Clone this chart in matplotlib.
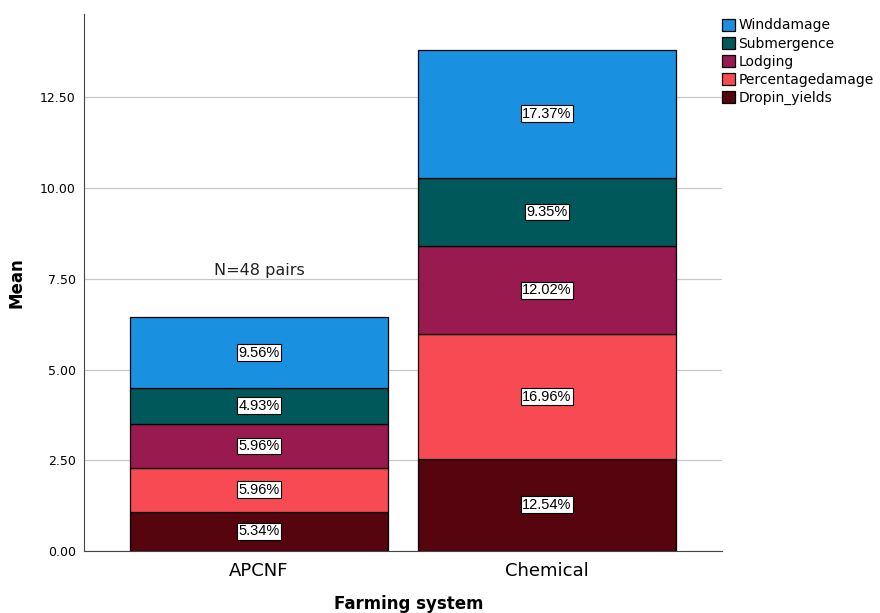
import matplotlib
matplotlib.use('Agg')
import matplotlib.pyplot as plt
from matplotlib.patches import Patch

systems = ['APCNF', 'Chemical']
series = ['Dropin_yields', 'Percentagedamage', 'Lodging', 'Submergence', 'Winddamage']
dropin_yields = [1.08, 2.54]
percentagedamage = [1.21, 3.43]
lodging = [1.21, 2.43]
submergence = [1.00, 1.89]
winddamage = [1.94, 3.52]
pct_labels = [['5.34%', '12.54%'], ['5.96%', '16.96%'], ['5.96%', '12.02%'],
              ['4.93%', '9.35%'], ['9.56%', '17.37%']]
colors = ['#56040E', '#F84A52', '#981A4F', '#00585A', '#1990E0']

values = [dropin_yields, percentagedamage, lodging, submergence, winddamage]

fig = plt.figure(figsize=(8.8, 6.13), dpi=100)
ax = fig.add_axes([0.0955, 0.1011, 0.725, 0.876])

x = range(len(systems))
bottom = [0.0] * len(systems)
for vals, col, labs in zip(values, colors, pct_labels):
    ax.bar(x, vals, bottom=bottom, width=0.896, color=col,
           edgecolor='black', linewidth=0.9, zorder=3)
    for i, (v, b, lab) in enumerate(zip(vals, bottom, labs)):
        ax.text(i, b + v / 2, lab, ha='center', va='center', fontsize=10.5,
                family='Liberation Sans', zorder=4,
                bbox=dict(boxstyle='square,pad=0.1', fc='white', ec='black', lw=0.8))
    bottom = [b + v for b, v in zip(bottom, vals)]

ax.text(0, 7.74, 'N=48 pairs', ha='center', va='center', fontsize=11.5, color='#222222')

ax.set_xlim(-0.608, 1.608)
ax.set_ylim(0, 14.8)
ax.set_yticks([0, 2.5, 5, 7.5, 10, 12.5])
ax.set_yticklabels(['%.2f' % t for t in [0, 2.5, 5, 7.5, 10, 12.5]], fontsize=9)
ax.set_xticks(list(x))
ax.set_xticklabels(systems, fontsize=13)
ax.tick_params(axis='both', length=0, pad=6)
ax.tick_params(axis='x', pad=8)
ax.yaxis.grid(True, color='#C8C8C8', linewidth=0.9, zorder=0)
ax.set_axisbelow(True)
for s in ['top', 'right']:
    ax.spines[s].set_visible(False)
ax.spines['left'].set_color('#444444')
ax.spines['bottom'].set_color('#444444')

ax.set_ylabel('Mean', fontsize=12, fontweight='bold', labelpad=10)
fig.text(0.465, 0.015, 'Farming system', ha='center', va='center',
         fontsize=12, fontweight='bold')

handles = [Patch(facecolor=c, edgecolor='black', linewidth=0.9)
           for c in colors[::-1]]
fig.legend(handles, series[::-1], loc='upper left', bbox_to_anchor=(0.82, 0.97),
           frameon=False, fontsize=10, handlelength=0.95, handleheight=0.95,
           handletextpad=0.25, labelspacing=0.3, borderpad=0, borderaxespad=0)

plt.savefig('out.png', dpi=100)
